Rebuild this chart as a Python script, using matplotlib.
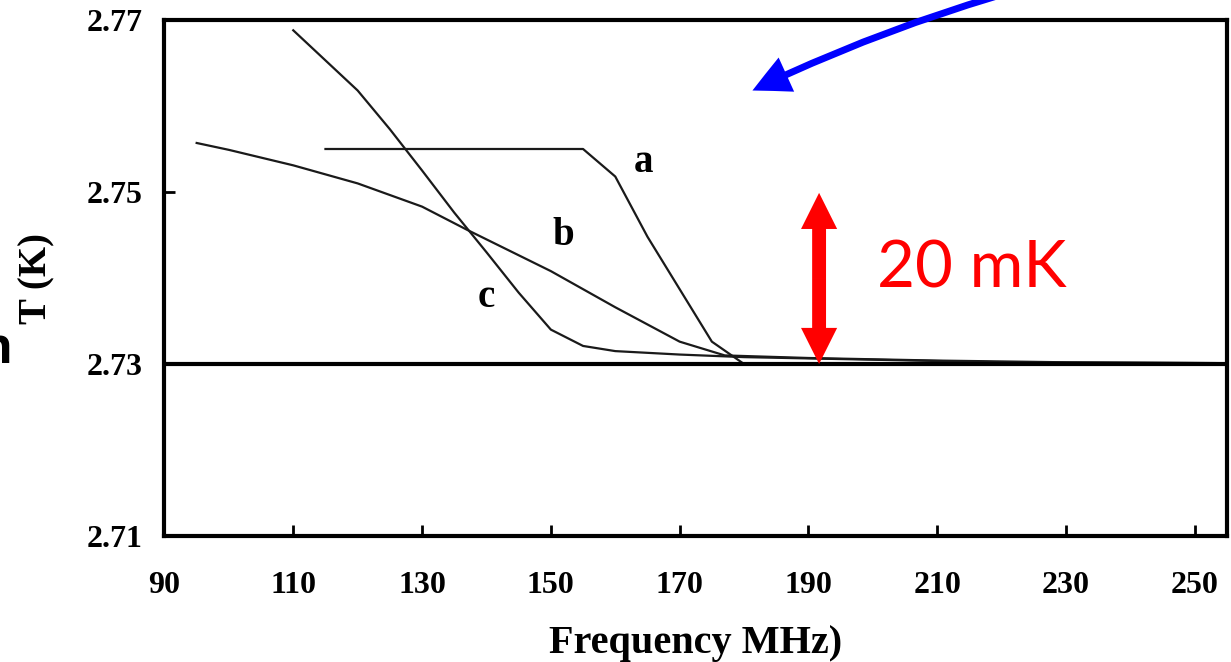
import matplotlib.pyplot as plt
from matplotlib.patches import ArrowStyle

# curve a, b, c (MHz, K)
a_x = [115, 155, 160, 165, 170, 175, 180]
a_y = [2.7550, 2.7550, 2.7518, 2.7448, 2.7387, 2.7326, 2.7300]

b_x = [95, 100, 110, 120, 130, 137, 150, 160, 170, 177, 190, 210, 230, 255]
b_y = [2.7557, 2.7549, 2.7531, 2.7510, 2.7483, 2.7456, 2.7408, 2.7366, 2.7326,
       2.7310, 2.7307, 2.7304, 2.7302, 2.7301]

c_x = [110, 115, 120, 125, 130, 135, 140, 145, 150, 155, 160, 170, 180, 200, 220, 255]
c_y = [2.7688, 2.7653, 2.7618, 2.7573, 2.7525, 2.7476, 2.7430, 2.7383, 2.7340,
       2.7321, 2.7315, 2.7311, 2.7308, 2.7305, 2.7302, 2.7301]

t_cmb = 2.73
x_ticks = [90, 110, 130, 150, 170, 190, 210, 230, 250]
y_ticks = [2.71, 2.73, 2.75, 2.77]
curve_labels = [("a", 164.4, 2.7534), ("b", 151.9, 2.7449), ("c", 139.9, 2.7377)]

serif = "Liberation Serif"

fig = plt.figure(figsize=(12.31, 6.62), dpi=100)
ax = fig.add_axes([0.1336, 0.1903, 0.8632, 0.7795])

for xs, ys in [(a_x, a_y), (b_x, b_y), (c_x, c_y)]:
    ax.plot(xs, ys, color="#1a1a1a", lw=1.6)
ax.axhline(t_cmb, color="black", lw=3)

for txt, x, y in curve_labels:
    ax.text(x, y, txt, ha="center", va="center", fontsize=28,
            fontweight="bold", family=serif)

ax.set_xlim(90, 255)
ax.set_ylim(2.71, 2.77)
ax.set_xticks(x_ticks)
ax.set_yticks(y_ticks)
ax.set_yticklabels([f"{v:.2f}" for v in y_ticks])
ax.tick_params(direction="in", length=8, width=2, top=False, right=False)
ax.tick_params(axis="x", pad=25)
ax.tick_params(axis="y", pad=16)
for lab in ax.get_xticklabels() + ax.get_yticklabels():
    lab.set_family(serif)
    lab.set_fontweight("bold")
    lab.set_fontsize(23)
for sp in ax.spines.values():
    sp.set_linewidth(3)

ax.set_xlabel("Frequency MHz)", fontsize=29, fontweight="bold", family=serif)
ax.set_ylabel("T (K)", fontsize=28, fontweight="bold", family=serif)
ax.xaxis.set_label_coords(0.5, -0.172)
ax.yaxis.set_label_coords(-0.103, 0.5)

# red 20 mK double arrow, drawn as two filled halves
mid = (191.65, 2.74)
red = ArrowStyle("simple", head_length=26, head_width=26, tail_width=10)
for tip in [(191.65, 2.7499), (191.65, 2.7300)]:
    ax.annotate("", xy=tip, xytext=mid,
                arrowprops=dict(arrowstyle=red, color="#ff0000", lw=0,
                                mutation_scale=1, shrinkA=0, shrinkB=0))
ax.text(200.6, 2.7389, "20 mK", color="#ff0000", fontsize=47, family="Lato",
        ha="left", va="baseline")

# blue arrow coming in from above the figure
blue = ArrowStyle("simple", head_length=27, head_width=27, tail_width=5)
ax.annotate("", xy=(181.3, 2.7618), xytext=(0.808, 1.005),
            textcoords="figure fraction", annotation_clip=False,
            arrowprops=dict(arrowstyle=blue, color="#0000ff", lw=0,
                            mutation_scale=1, shrinkA=0, shrinkB=0,
                            connectionstyle="arc3,rad=0.04"))

# cut-off letter at the left edge of the slide
fig.text(0.0095, 0.4517, "n", ha="right", va="baseline", fontsize=35,
         fontweight="bold", family="Open Sans")

fig.savefig("out.png", dpi=100)
